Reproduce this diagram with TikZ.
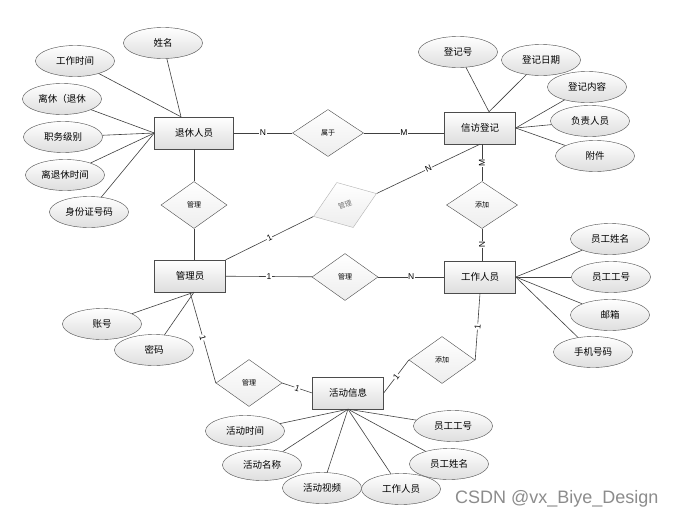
\documentclass[tikz,border=0pt]{standalone}
\usepackage{fontspec}
\setmainfont{Noto Sans CJK SC}
\newfontfamily\latinfont{Liberation Sans}
\usetikzlibrary{shapes.geometric}

\begin{document}
\begin{tikzpicture}[x=1pt, y=-1pt,
  entidad/.style={rectangle, draw=black!70, minimum width=71pt, minimum height=32pt,
    top color=white, bottom color=black!13, font=\fontsize{9.5}{11}\selectfont},
  relacion/.style={diamond, aspect=1.4, draw=black!70, minimum width=66pt, minimum height=47pt,
    inner sep=0pt, top color=white, bottom color=black!7, font=\fontsize{7}{8}\selectfont},
  atributo/.style={ellipse, draw=black!70, minimum width=79pt, minimum height=31pt,
    inner sep=0pt, top color=white, bottom color=black!13, font=\fontsize{9.5}{11}\selectfont},
  card/.style={fill=white, inner sep=0.6pt, sloped, font=\latinfont\fontsize{8.5}{9}\selectfont},
  every edge/.style={draw=black!75, line width=0.6pt}]
\fill[white] (0,0) rectangle (674,514);

% Entidades
\node[entidad, minimum width=79pt] (tuixiu) at (194,133) {退休人员};
\node[entidad] (xinfang) at (480,128) {信访登记};
\node[entidad] (admin) at (190,276) {管理员};
\node[entidad] (personal) at (480,277) {工作人员};
\node[entidad] (actividad) at (348,393) {活动信息};

% Relaciones
\node[relacion, minimum width=71pt] (shuyu) at (328,133) {属于};
\node[relacion] (guanliA) at (194,205) {管理};
\node[relacion, rotate=20, minimum width=67pt, minimum height=48pt, draw=black!30,
  text=black!55] (guanliB) at (345,205) {管理};
\node[relacion, minimum width=71pt] (tianjiaA) at (482,205) {添加};
\node[relacion] (guanliC) at (345,277) {管理};
\node[relacion] (tianjiaB) at (442,360) {添加};
\node[relacion] (guanliD) at (249,383) {管理};

% Atributos de 退休人员
\node[atributo] (xingming) at (163,43) {姓名};
\node[atributo] (gzsj) at (75,61) {工作时间};
\node[atributo] (lixiu) at (62,99) {离休（退休};
\node[atributo] (zhiwu) at (63,137) {职务级别};
\node[atributo] (ltxsj) at (65,175) {离退休时间};
\node[atributo] (sfz) at (89,212) {身份证号码};

% Atributos de 信访登记
\node[atributo] (djh) at (458,52) {登记号};
\node[atributo] (djrq) at (541,60) {登记日期};
\node[atributo] (djnr) at (587,87) {登记内容};
\node[atributo] (fzry) at (590,121) {负责人员};
\node[atributo] (fujian) at (595,156) {附件};

% Atributos de 工作人员
\node[atributo] (ygxm) at (610,239) {员工姓名};
\node[atributo] (yggh) at (611,277) {员工工号};
\node[atributo] (youxiang) at (610,315) {邮箱};
\node[atributo] (shouji) at (593,352) {手机号码};

% Atributos de 管理员
\node[atributo] (zhanghao) at (102,324) {账号};
\node[atributo] (mima) at (154,350) {密码};

% Atributos de 活动信息
\node[atributo] (hdsj) at (245,431) {活动时间};
\node[atributo] (hdmc) at (262,465) {活动名称};
\node[atributo] (hdsp) at (322,488) {活动视频};
\node[atributo] (hdry) at (401,489) {工作人员};
\node[atributo] (hdxm) at (449,464) {员工姓名};
\node[atributo] (hdgh) at (453,426) {员工工号};

% Marca
\node[anchor=base west, inner sep=0pt, text=black!45,
  font=\latinfont\fontsize{18}{20}\selectfont] (marca) at (455,503) {CSDN @vx\_Biye\_Design};

% Conexiones
\path
(tuixiu) edge node[card] {N} (shuyu)
(shuyu.east) edge node[card] {M} (shuyu.east -| xinfang.west)
(tuixiu) edge (guanliA)
(guanliA.south) edge (guanliA.south |- admin.north)
(admin.north east) edge node[card] {1} (guanliB.west)
(guanliB.east) edge node[card] {N} (xinfang.south)
(tianjiaA.north) edge node[card] {M} (tianjiaA.north |- xinfang.south)
(tianjiaA.south) edge node[card] {N} (tianjiaA.south |- personal.north)
(admin) edge node[card] {1} (guanliC)
(guanliC) edge node[card] {N} (personal)
(personal.south) edge node[card] {1} (tianjiaB.east)
(tianjiaB.west) edge node[card] {1} (actividad.east)
(admin.south) edge node[card] {1} (guanliD.west)
(guanliD.east) edge node[card] {1} (actividad.west);

% Lineas de atributos
\path
(xingming) edge ([xshift=-13pt]tuixiu.north)
(gzsj) edge ([xshift=-13pt]tuixiu.north)
(lixiu) edge (tuixiu.west)
(zhiwu) edge (tuixiu.west)
(ltxsj) edge (tuixiu.west)
(sfz) edge (tuixiu.west)
(djh) edge ([xshift=9pt]xinfang.north)
(djrq) edge ([xshift=9pt]xinfang.north)
(djnr) edge (xinfang.east)
(fzry) edge (xinfang.east)
(fujian) edge (xinfang.east)
(ygxm) edge (personal.east)
(yggh) edge (personal.east)
(youxiang) edge (personal.east)
(shouji) edge (personal.east)
(zhanghao) edge ([xshift=4pt]admin.south)
(mima) edge ([xshift=4pt]admin.south)
(hdsj) edge (actividad.south)
(hdmc) edge (actividad.south)
(hdsp) edge (actividad.south)
(hdry) edge (actividad.south)
(hdxm) edge (actividad.south)
(hdgh) edge (actividad.south);
\end{tikzpicture}
\end{document}
